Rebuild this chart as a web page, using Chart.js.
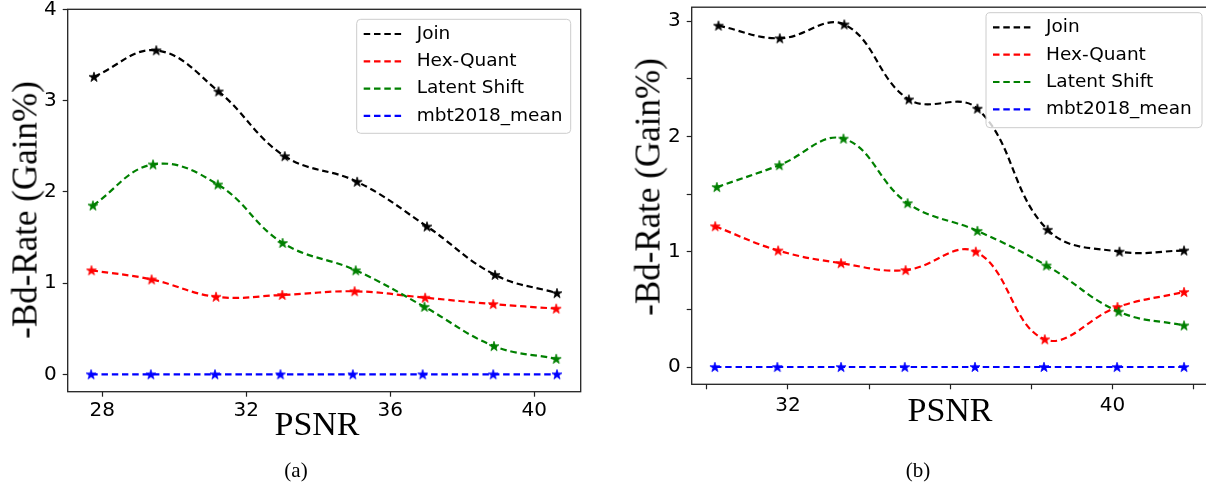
<!DOCTYPE html>
<html>
<head>
<meta charset="utf-8">
<script src="https://cdn.jsdelivr.net/npm/chart.js@4.4.1/dist/chart.umd.min.js"></script>
<style>
  html, body { margin: 0; padding: 0; background: #fff; }
  body { width: 1206px; height: 486px; overflow: hidden; position: relative; }
  canvas { position: absolute; top: 0; }
  .lbl { position: absolute; font-family: "Liberation Serif", "Times New Roman", serif; color: #000;
         white-space: nowrap; line-height: 1; transform: translate(-50%, -50%); }
  .ylab { transform: translate(-50%, -50%) rotate(-90deg); }
</style>
</head>
<body>
<canvas id="chartA" width="600" height="486" style="left:0"></canvas>
<canvas id="chartB" width="620" height="486" style="left:600px"></canvas>

<div class="lbl ylab" style="left:25px; top:210px; font-size:35px">-Bd-Rate (Gain%)</div>
<div class="lbl" style="left:317px; top:424px; font-size:34px">PSNR</div>
<div class="lbl" style="left:296px; top:470px; font-size:21px">(a)</div>

<div class="lbl ylab" style="left:648px; top:187px; font-size:35px">-Bd-Rate (Gain%)</div>
<div class="lbl" style="left:950px; top:410px; font-size:34px">PSNR</div>
<div class="lbl" style="left:918px; top:470px; font-size:21px">(b)</div>

<script>
// ---- series names ----
const seriesNames = ['Join', 'Hex-Quant', 'Latent Shift', 'mbt2018_mean'];

// ---- panel (a): PSNR and BD-rate gain (%) per method ----
const psnrJoinA  = [27.77, 29.50, 31.23, 33.07, 35.08, 37.02, 38.91, 40.63];
const gainJoinA  = [3.26, 3.55, 3.10, 2.39, 2.11, 1.62, 1.09, 0.89];
const psnrHexA   = [27.70, 29.37, 31.16, 33.00, 35.01, 36.97, 38.86, 40.61];
const gainHexA   = [1.14, 1.04, 0.85, 0.87, 0.91, 0.84, 0.77, 0.72];
const psnrShiftA = [27.74, 29.41, 31.21, 33.01, 35.04, 36.95, 38.88, 40.61];
const gainShiftA = [1.85, 2.30, 2.08, 1.44, 1.14, 0.74, 0.31, 0.17];
const psnrMbtA   = [27.69, 29.35, 31.13, 32.95, 34.96, 36.90, 38.86, 40.63];
const gainMbtA   = [0, 0, 0, 0, 0, 0, 0, 0];

// ---- panel (b) ----
const psnrJoinB  = [30.29, 31.80, 33.39, 34.98, 36.67, 38.40, 40.17, 41.76];
const gainJoinB  = [2.96, 2.85, 2.97, 2.32, 2.24, 1.19, 1.00, 1.01];
const psnrHexB   = [30.21, 31.76, 33.31, 34.90, 36.63, 38.33, 40.12, 41.76];
const gainHexB   = [1.22, 1.01, 0.90, 0.84, 1.00, 0.24, 0.52, 0.65];
const psnrShiftB = [30.25, 31.79, 33.37, 34.95, 36.67, 38.37, 40.15, 41.76];
const gainShiftB = [1.56, 1.75, 1.98, 1.42, 1.18, 0.88, 0.48, 0.36];
const psnrMbtB   = [30.20, 31.74, 33.31, 34.88, 36.61, 38.31, 40.11, 41.76];
const gainMbtB   = [0, 0, 0, 0, 0, 0, 0, 0];

// ---- tick values ----
const xTicksA = [28, 32, 36, 40];
const yTicksA = [0, 1, 2, 3, 4];
const xTicksB = [30, 32, 34, 36, 38, 40, 42];
const xLabelsB = [32, 40];
const yTicksB = [0, 0.5, 1, 1.5, 2, 2.5, 3];
const yLabelsB = [0, 1, 2, 3];

// ---- styling ----
const seriesColors = ['#000000', '#ff0000', '#008000', '#0000ff'];
const dashPattern = [6.5, 3.8];

function starMarker(color) {
  const c = document.createElement('canvas');
  c.width = 14; c.height = 14;
  const g = c.getContext('2d');
  g.translate(7, 7.4);
  g.beginPath();
  for (let i = 0; i < 10; i++) {
    const r = i % 2 === 0 ? 5.2 : 5.2 * 0.382;
    const a = -Math.PI / 2 + i * Math.PI / 5;
    g.lineTo(r * Math.cos(a), r * Math.sin(a));
  }
  g.closePath();
  g.fillStyle = color; g.fill();
  g.lineWidth = 0.8; g.strokeStyle = color; g.stroke();
  return c;
}

function pts(xs, ys) { return xs.map((x, i) => ({ x: x, y: ys[i] })); }

function makeDatasets(series) {
  return series.map((s, i) => ({
    label: seriesNames[i],
    data: pts(s[0], s[1]),
    borderColor: seriesColors[i],
    backgroundColor: seriesColors[i],
    borderWidth: 2.2,
    borderDash: dashPattern,
    tension: 0.4,
    fill: false,
    pointStyle: starMarker(seriesColors[i]),
    pointRadius: 5,
    pointHoverRadius: 5,
    order: 3 - i
  }));
}

// plot frame on all four sides
const frameBox = {
  id: 'frameBox',
  afterDatasetsDraw(chart) {
    const { ctx, chartArea: a } = chart;
    ctx.save();
    ctx.strokeStyle = '#222';
    ctx.lineWidth = 1.3;
    ctx.strokeRect(a.left, a.top, a.right - a.left, a.bottom - a.top);
    ctx.restore();
  }
};

// legend box drawn inside the upper-right corner of the plot
const boxLegend = {
  id: 'boxLegend',
  afterDraw(chart, args, o) {
    const ctx = chart.ctx, a = chart.chartArea;
    const w = o.width, h = o.height;
    const L = a.right - o.right - w, T = a.top + o.top;
    ctx.save();
    ctx.beginPath();
    if (ctx.roundRect) ctx.roundRect(L, T, w, h, 4); else ctx.rect(L, T, w, h);
    ctx.fillStyle = 'rgba(255,255,255,0.8)';
    ctx.fill();
    ctx.strokeStyle = '#cccccc';
    ctx.lineWidth = 1;
    ctx.stroke();
    chart.data.datasets.forEach((ds, i) => {
      const y = T + 14.7 + i * 27.3;
      ctx.setLineDash(ds.borderDash);
      ctx.strokeStyle = ds.borderColor;
      ctx.lineWidth = ds.borderWidth;
      ctx.beginPath();
      ctx.moveTo(L + 7, y);
      ctx.lineTo(L + 45, y);
      ctx.stroke();
      ctx.setLineDash([]);
      ctx.fillStyle = '#000';
      ctx.font = '18.5px "DejaVu Sans"';
      ctx.textBaseline = 'middle';
      ctx.textAlign = 'left';
      ctx.fillText(ds.label, L + 60, y);
    });
    ctx.restore();
  }
};

function zeroPad(s) { s.paddingLeft = 0; s.paddingRight = 0; s.paddingTop = 0; s.paddingBottom = 0; }

const tickFont = { family: 'DejaVu Sans', size: 20 };
const tickGrid = { drawOnChartArea: false, drawTicks: true, tickLength: 5, tickWidth: 1.2, tickColor: '#222' };

function makeChart(id, datasets, p) {
  return new Chart(document.getElementById(id), {
    type: 'line',
    data: { datasets: datasets },
    plugins: [frameBox, boxLegend],
    options: {
      responsive: false,
      animation: false,
      devicePixelRatio: 1,
      layout: { padding: p.padding },
      plugins: {
        legend: { display: false },
        tooltip: { enabled: false },
        boxLegend: p.legend
      },
      scales: {
        x: {
          type: 'linear',
          min: p.xMin, max: p.xMax,
          afterBuildTicks: s => { s.ticks = p.xTicks.map(v => ({ value: v })); },
          afterFit: s => { s.height = 40; zeroPad(s); },
          grid: tickGrid,
          border: { display: false },
          ticks: {
            autoSkip: false, maxRotation: 0, minRotation: 0, padding: p.xPad,
            color: '#000', font: tickFont,
            callback: v => (p.xLabels.includes(v) ? String(v) : '')
          }
        },
        y: {
          type: 'linear',
          min: p.yMin, max: p.yMax,
          afterBuildTicks: s => { s.ticks = p.yTicks.map(v => ({ value: v })); },
          afterFit: s => { s.width = p.yWidth; zeroPad(s); },
          grid: tickGrid,
          border: { display: false },
          ticks: {
            autoSkip: false, padding: 6,
            color: '#000', font: tickFont,
            callback: v => (p.yLabels.includes(v) ? String(v) : '')
          }
        }
      }
    }
  });
}

makeChart('chartA', makeDatasets([
  [psnrJoinA, gainJoinA], [psnrHexA, gainHexA], [psnrShiftA, gainShiftA], [psnrMbtA, gainMbtA]
]), {
  padding: { left: 0, right: 19.3, top: 9.3, bottom: 54.3 },
  xMin: 27.04, xMax: 41.29, yMin: -0.19, yMax: 4.0,
  xTicks: xTicksA, xLabels: xTicksA, yTicks: yTicksA, yLabels: yTicksA,
  yWidth: 67.7, xPad: 2,
  legend: { width: 214, height: 114, right: 10, top: 10 }
});

makeChart('chartB', makeDatasets([
  [psnrJoinB, gainJoinB], [psnrHexB, gainHexB], [psnrShiftB, gainShiftB], [psnrMbtB, gainMbtB]
]), {
  padding: { left: 0, right: 10, top: 0.5, bottom: 61.7 },
  xMin: 29.63, xMax: 42.40, yMin: -0.15, yMax: 3.12,
  xTicks: xTicksB, xLabels: xLabelsB, yTicks: yTicksB, yLabels: yLabelsB,
  yWidth: 91.7, xPad: 4,
  legend: { width: 216, height: 115, right: 8, top: 5.5 }
});
</script>
</body>
</html>
